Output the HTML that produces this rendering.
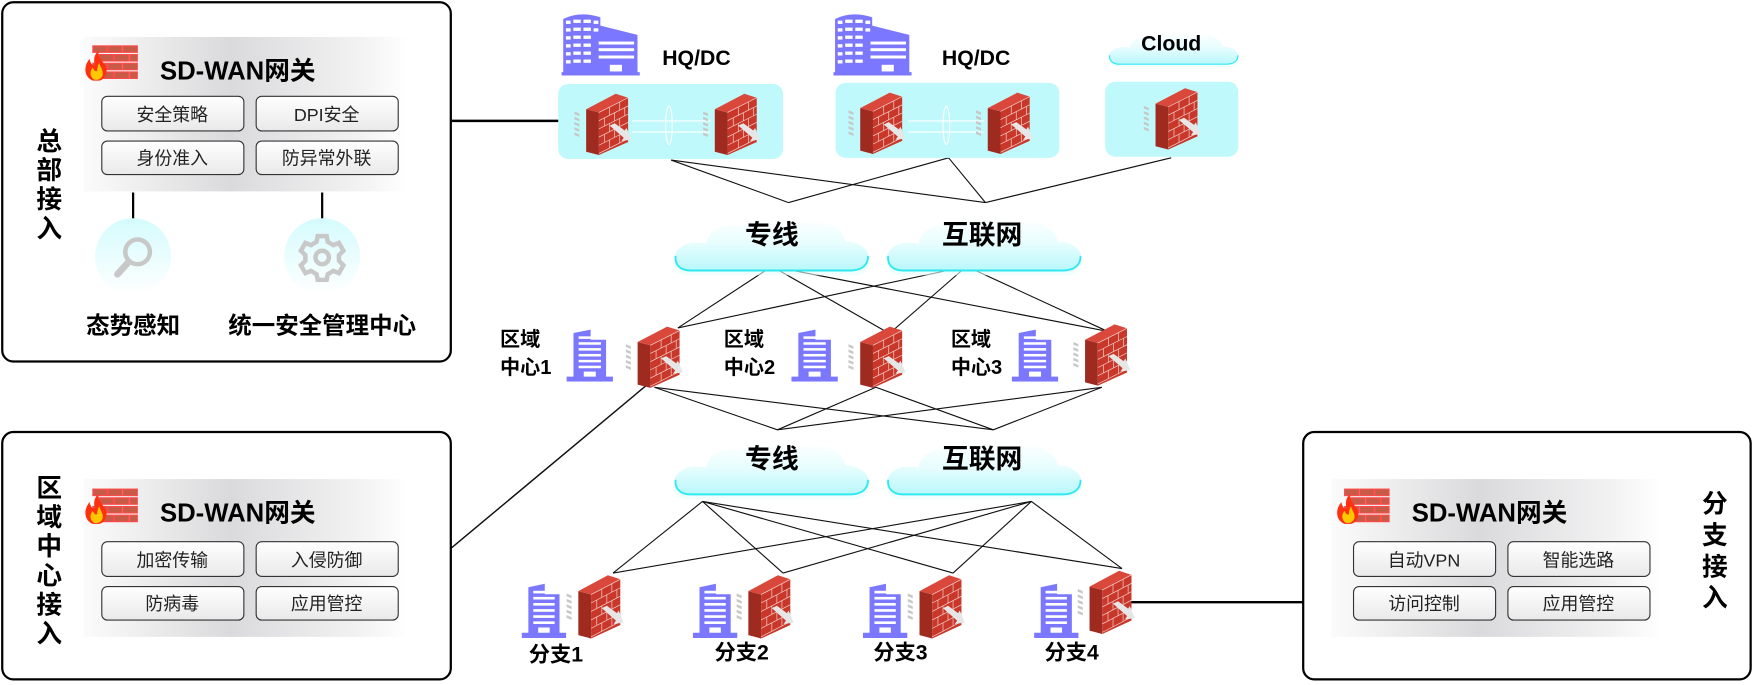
<!DOCTYPE html>
<html><head><meta charset="utf-8"><style>
html,body{margin:0;padding:0;background:#fff;}
svg{display:block;}
text{font-family:"Liberation Sans","Noto Sans CJK SC",sans-serif;}
</style></head><body>
<svg width="1754" height="685" viewBox="0 0 1568 612" preserveAspectRatio="none" xmlns="http://www.w3.org/2000/svg">
<defs>
<linearGradient id="panel" x1="0" x2="1" y1="0" y2="0">
<stop offset="0" stop-color="#fbfbfb"/><stop offset="0.45" stop-color="#dadadc"/><stop offset="0.85" stop-color="#f2f2f3"/><stop offset="1" stop-color="#ffffff"/>
</linearGradient>
<linearGradient id="btn" x1="0" x2="0" y1="0" y2="1">
<stop offset="0" stop-color="#ffffff"/><stop offset="1" stop-color="#e9e9ea"/>
</linearGradient>
<linearGradient id="circ" x1="0" x2="0" y1="0" y2="1">
<stop offset="0" stop-color="#d4fbfd"/><stop offset="1" stop-color="#ffffff"/>
</linearGradient>
<linearGradient id="cloudg" x1="0" x2="0" y1="0" y2="1">
<stop offset="0" stop-color="#ffffff"/><stop offset="0.5" stop-color="#e6fdfe"/><stop offset="1" stop-color="#b8f7fb"/>
</linearGradient>
<symbol id="cloud" viewBox="0 0 176 50" preserveAspectRatio="none">
<path d="M14,46 C2,46 -2,34 6,28 C12,22 24,22 30,24 C32,12 46,6 60,10 C70,2 96,0 108,8 C124,2 150,6 154,22 C170,22 180,34 172,42 C168,46 162,48 155,48 Z" fill="#e6fdfe" opacity="0.6" transform="translate(0,4)"/>
<path d="M14,46 C2,46 -2,34 6,28 C12,22 24,22 30,24 C32,12 46,6 60,10 C70,2 96,0 108,8 C124,2 150,6 154,22 C170,22 180,34 172,42 C168,46 162,46 155,46 Z" fill="url(#cloudg)"/>
<path d="M3,34 C2,42 8,46 16,46 L158,46 C168,46 174,42 174,34" fill="none" stroke="#2fe9f0" stroke-width="1.6"/>
</symbol>
<symbol id="fw" viewBox="40 15 180 205" preserveAspectRatio="none">
<g fill="#c8c8c8">
<polygon points="45,82 60,88 60,96 45,90"/><polygon points="45,98 60,104 60,112 45,106"/><polygon points="45,114 60,120 60,128 45,122"/><polygon points="45,130 60,136 60,144 45,138"/><polygon points="45,146 60,152 60,160 45,154"/>
</g>
<polygon points="80,75 118,85 118,215 80,205" fill="#9e2a20"/>
<polygon points="118,85 205,40 205,175 118,215" fill="#c9372a"/>
<polygon points="80,75 168,28 205,40 118,85" fill="#d9483a"/>
<g stroke="#f3d6d0" stroke-width="2" fill="none">
<line x1="118" y1="85" x2="205" y2="40"/>
<line x1="118" y1="110" x2="205" y2="65"/><line x1="118" y1="135" x2="205" y2="90"/><line x1="118" y1="160" x2="205" y2="115"/><line x1="118" y1="185" x2="205" y2="140"/><line x1="118" y1="210" x2="205" y2="165"/>
<line x1="150" y1="69" x2="150" y2="94"/><line x1="180" y1="53" x2="180" y2="78"/><line x1="135" y1="101" x2="135" y2="126"/><line x1="165" y1="86" x2="165" y2="111"/><line x1="195" y1="70" x2="195" y2="95"/><line x1="150" y1="119" x2="150" y2="144"/><line x1="180" y1="103" x2="180" y2="128"/><line x1="135" y1="151" x2="135" y2="176"/><line x1="165" y1="136" x2="165" y2="161"/><line x1="150" y1="169" x2="150" y2="194"/><line x1="180" y1="153" x2="180" y2="178"/>
</g>
<polygon points="150,125 165,118 195,140 200,132 215,168 185,172 192,162" fill="#e6e6e6"/>
</symbol>
<symbol id="bld" viewBox="185 20 232 192" preserveAspectRatio="none">
<path d="M190,40 Q240,15 300,35 L300,60 L410,88 L410,200 L417,200 L417,210 L185,210 L185,200 L190,200 Z" fill="#7b78ff"/>
<g fill="#ffffff">
<rect x="198" y="45" width="14" height="10"/><rect x="220" y="42" width="22" height="10"/><rect x="250" y="42" width="22" height="10"/><rect x="280" y="45" width="14" height="10"/>
<rect x="198" y="68" width="14" height="10"/><rect x="220" y="66" width="22" height="10"/><rect x="250" y="66" width="22" height="10"/><rect x="280" y="68" width="14" height="10"/>
<rect x="198" y="92" width="14" height="10"/><rect x="220" y="90" width="22" height="10"/><rect x="250" y="90" width="22" height="10"/>
<rect x="198" y="116" width="14" height="10"/><rect x="220" y="114" width="22" height="10"/><rect x="250" y="114" width="22" height="10"/>
<rect x="198" y="140" width="14" height="10"/><rect x="220" y="138" width="22" height="10"/><rect x="250" y="138" width="22" height="10"/>
<rect x="198" y="164" width="14" height="10"/><rect x="220" y="162" width="22" height="10"/><rect x="250" y="162" width="22" height="10"/>
<rect x="295" y="108" width="105" height="9"/><rect x="295" y="128" width="105" height="9"/><rect x="295" y="150" width="105" height="9"/>
<rect x="328" y="178" width="36" height="20"/>
</g>
</symbol>
<symbol id="tb" viewBox="0 0 60 64" preserveAspectRatio="none">
<path d="M10,6 L30,2 L30,14 L48,14 L48,58 L56,58 L56,64 L2,64 L2,58 L10,58 Z" fill="#7b78ff"/>
<g fill="#fff"><rect x="16" y="10" width="26" height="3"/><rect x="16" y="17" width="26" height="3"/><rect x="16" y="24" width="26" height="3"/><rect x="16" y="31" width="26" height="3"/><rect x="16" y="38" width="26" height="3"/><rect x="16" y="45" width="26" height="3"/><rect x="22" y="52" width="14" height="6"/></g>
</symbol>
<symbol id="fwico" viewBox="0 0 50 34">
<g fill="#c85a48" stroke="#ff4a4a" stroke-width="1">
<rect x="8" y="1" width="13" height="6"/><rect x="22" y="1" width="13" height="6"/><rect x="36" y="1" width="13" height="6"/>
<rect x="14" y="9" width="13" height="6"/><rect x="28" y="9" width="13" height="6"/><rect x="42" y="9" width="7" height="6"/>
<rect x="8" y="17" width="13" height="6"/><rect x="22" y="17" width="13" height="6"/><rect x="36" y="17" width="13" height="6"/>
<rect x="14" y="25" width="13" height="6"/><rect x="28" y="25" width="13" height="6"/><rect x="42" y="25" width="7" height="6"/>
</g>
<path d="M8,33 C0,30 -1,20 5,13 C6,18 8,19 10,19 C8,13 10,8 13,6 C13,12 17,15 20,20 C22,26 19,32 14,33 Z" fill="#ff3010"/>
<path d="M9,32 C5,29 5,24 8,21 C9,24 11,25 12,24 C12,21 13,18 14,17 C15,21 18,24 17,28 C16,31 13,33 9,32 Z" fill="#ffc800"/>
</symbol>
</defs>

<g stroke="#111" stroke-width="1" fill="none">
<line x1="600" y1="143" x2="705" y2="181"/><line x1="600" y1="143" x2="881" y2="181"/>
<line x1="848" y1="141" x2="705" y2="181"/><line x1="848" y1="141" x2="881" y2="181"/>
<line x1="1047" y1="141" x2="881" y2="181"/>
<line x1="690" y1="238" x2="606" y2="293"/><line x1="690" y1="238" x2="795" y2="298"/><line x1="690" y1="238" x2="990" y2="296"/>
<line x1="864" y1="238" x2="606" y2="293"/><line x1="864" y1="238" x2="795" y2="298"/><line x1="864" y1="238" x2="990" y2="296"/>
<line x1="585" y1="346" x2="695" y2="384"/><line x1="585" y1="346" x2="888" y2="384"/>
<line x1="783" y1="346" x2="695" y2="384"/><line x1="783" y1="346" x2="888" y2="384"/>
<line x1="985" y1="346" x2="695" y2="384"/><line x1="985" y1="346" x2="888" y2="384"/>
<line x1="628" y1="448" x2="548" y2="512"/><line x1="628" y1="448" x2="700" y2="512"/><line x1="628" y1="448" x2="852" y2="512"/><line x1="628" y1="448" x2="1003" y2="508"/>
<line x1="922" y1="448" x2="548" y2="512"/><line x1="922" y1="448" x2="700" y2="512"/><line x1="922" y1="448" x2="852" y2="512"/><line x1="922" y1="448" x2="1003" y2="508"/>
<line x1="583" y1="340" x2="403" y2="490" stroke-width="1.3"/>
</g>
<g stroke="#000" stroke-width="2.2">
<line x1="403" y1="108" x2="500" y2="108"/>
<line x1="1010" y1="538" x2="1165" y2="538"/>
</g>

<rect x="2" y="2" width="401" height="321" rx="10" fill="#fff" stroke="#000" stroke-width="2"/>
<rect x="75" y="33" width="290" height="138" fill="url(#panel)"/>
<use href="#fwico" x="74" y="40" width="51" height="33"/>
<text x="143" y="71" font-size="23" font-weight="bold">SD-WAN网关</text>
<g stroke="#333" stroke-width="1" fill="url(#btn)">
<rect x="91" y="86" width="127" height="31" rx="5"/><rect x="229" y="86" width="127" height="31" rx="5"/>
<rect x="91" y="126" width="127" height="30" rx="5"/><rect x="229" y="126" width="127" height="30" rx="5"/>
</g>
<g font-size="16" text-anchor="middle" fill="#222">
<text x="154" y="108">安全策略</text><text x="292" y="108">DPI安全</text>
<text x="154" y="147">身份准入</text><text x="292" y="147">防异常外联</text>
</g>
<g stroke="#000" stroke-width="2"><line x1="119" y1="172" x2="119" y2="196"/><line x1="288" y1="172" x2="288" y2="196"/></g>
<circle cx="119" cy="229" r="34" fill="url(#circ)"/>
<circle cx="288" cy="229" r="34" fill="url(#circ)"/>
<g fill="none" stroke="#c8c8c8" stroke-width="4" stroke-linecap="round">
<circle cx="123" cy="225" r="11"/><line x1="115" y1="234" x2="105" y2="245" stroke-width="6"/>
<circle cx="288" cy="230" r="6"/>
<path d="M284,211 h8 l1,5 l5,3 l5,-2 l4,7 l-4,4 v5 l4,4 l-4,7 l-5,-2 l-5,3 l-1,5 h-8 l-1,-5 l-5,-3 l-5,2 l-4,-7 l4,-4 v-5 l-4,-4 l4,-7 l5,2 l5,-3 z"/>
</g>
<g font-size="21" font-weight="bold" text-anchor="middle">
<text x="119" y="298">态势感知</text><text x="288" y="298">统一安全管理中心</text>
</g>
<g font-size="23" font-weight="bold" text-anchor="middle">
<text x="44" y="134">总</text><text x="44" y="160">部</text><text x="44" y="186">接</text><text x="44" y="212">入</text>
</g>

<use href="#bld" x="502" y="11" width="70" height="57"/>
<use href="#bld" x="745" y="11" width="70" height="57"/>
<g font-size="19" font-weight="bold"><text x="592" y="58">HQ/DC</text><text x="842" y="58">HQ/DC</text></g>
<use href="#cloud" x="990" y="27" width="118" height="33"/>
<text x="1047" y="45" font-size="19" font-weight="bold" text-anchor="middle">Cloud</text>
<rect x="499" y="75" width="201" height="67" rx="9" fill="#bff9fb"/>
<rect x="747" y="74" width="200" height="67" rx="9" fill="#bff9fb"/>
<rect x="988" y="73" width="119" height="67" rx="9" fill="#bff9fb"/>
<g stroke="#fff" stroke-width="1" fill="none">
<line x1="565" y1="108" x2="635" y2="108"/><line x1="565" y1="118" x2="635" y2="118"/><ellipse cx="598" cy="112" rx="3" ry="17"/>
<line x1="812" y1="108" x2="880" y2="108"/><line x1="812" y1="118" x2="880" y2="118"/><ellipse cx="846" cy="112" rx="3" ry="17"/>
</g>
<use href="#fw" x="512" y="80" width="54" height="60"/>
<use href="#fw" x="627" y="80" width="54" height="60"/>
<use href="#fw" x="757" y="79" width="54" height="60"/>
<use href="#fw" x="871" y="79" width="54" height="60"/>
<use href="#fw" x="1021" y="75" width="54" height="60"/>

<use href="#cloud" x="601" y="192" width="177" height="54"/>
<use href="#cloud" x="791" y="192" width="177" height="54"/>
<use href="#cloud" x="601" y="392" width="177" height="54"/>
<use href="#cloud" x="791" y="392" width="177" height="54"/>
<g font-size="24" font-weight="bold" text-anchor="middle">
<text x="690" y="218">专线</text><text x="878" y="218">互联网</text>
<text x="690" y="418">专线</text><text x="878" y="418">互联网</text>
</g>

<use href="#tb" x="505" y="293" width="46" height="48"/>
<use href="#tb" x="706" y="293" width="46" height="48"/>
<use href="#tb" x="903" y="293" width="46" height="48"/>
<use href="#fw" x="558" y="288" width="54" height="60"/>
<use href="#fw" x="757" y="288" width="54" height="60"/>
<use href="#fw" x="958" y="286" width="54" height="60"/>
<g font-size="18" font-weight="bold">
<text x="447" y="309">区域</text><text x="447" y="334">中心1</text>
<text x="647" y="309">区域</text><text x="647" y="334">中心2</text>
<text x="850" y="309">区域</text><text x="850" y="334">中心3</text>
</g>

<use href="#tb" x="465" y="520" width="44" height="50"/>
<use href="#tb" x="618" y="520" width="44" height="50"/>
<use href="#tb" x="770" y="520" width="44" height="50"/>
<use href="#tb" x="923" y="520" width="44" height="50"/>
<use href="#fw" x="505" y="510" width="54" height="62"/>
<use href="#fw" x="657" y="510" width="54" height="62"/>
<use href="#fw" x="810" y="510" width="54" height="62"/>
<use href="#fw" x="962" y="506" width="54" height="62"/>
<g font-size="19" font-weight="bold" text-anchor="middle">
<text x="497" y="591">分支1</text><text x="663" y="589">分支2</text><text x="805" y="589">分支3</text><text x="958" y="589">分支4</text>
</g>

<rect x="2" y="386" width="401" height="221" rx="10" fill="#fff" stroke="#000" stroke-width="2"/>
<rect x="75" y="428" width="290" height="141" fill="url(#panel)"/>
<use href="#fwico" x="74" y="436" width="51" height="33"/>
<text x="143" y="466" font-size="23" font-weight="bold">SD-WAN网关</text>
<g stroke="#333" stroke-width="1" fill="url(#btn)">
<rect x="91" y="484" width="127" height="31" rx="5"/><rect x="229" y="484" width="127" height="31" rx="5"/>
<rect x="91" y="524" width="127" height="30" rx="5"/><rect x="229" y="524" width="127" height="30" rx="5"/>
</g>
<g font-size="16" text-anchor="middle" fill="#222">
<text x="154" y="506">加密传输</text><text x="292" y="506">入侵防御</text>
<text x="154" y="545">防病毒</text><text x="292" y="545">应用管控</text>
</g>
<g font-size="23" font-weight="bold" text-anchor="middle">
<text x="44" y="444">区</text><text x="44" y="470">域</text><text x="44" y="496">中</text><text x="44" y="522">心</text><text x="44" y="548">接</text><text x="44" y="574">入</text>
</g>

<rect x="1165" y="386" width="400" height="221" rx="10" fill="#fff" stroke="#000" stroke-width="2"/>
<rect x="1190" y="428" width="295" height="141" fill="url(#panel)"/>
<use href="#fwico" x="1193" y="436" width="51" height="33"/>
<text x="1262" y="466" font-size="23" font-weight="bold">SD-WAN网关</text>
<g stroke="#333" stroke-width="1" fill="url(#btn)">
<rect x="1210" y="484" width="127" height="31" rx="5"/><rect x="1348" y="484" width="127" height="31" rx="5"/>
<rect x="1210" y="524" width="127" height="30" rx="5"/><rect x="1348" y="524" width="127" height="30" rx="5"/>
</g>
<g font-size="16" text-anchor="middle" fill="#222">
<text x="1273" y="506">自动VPN</text><text x="1411" y="506">智能选路</text>
<text x="1273" y="545">访问控制</text><text x="1411" y="545">应用管控</text>
</g>
<g font-size="23" font-weight="bold" text-anchor="middle">
<text x="1533" y="458">分</text><text x="1533" y="486">支</text><text x="1533" y="514">接</text><text x="1533" y="542">入</text>
</g>
</svg>
</body></html>
